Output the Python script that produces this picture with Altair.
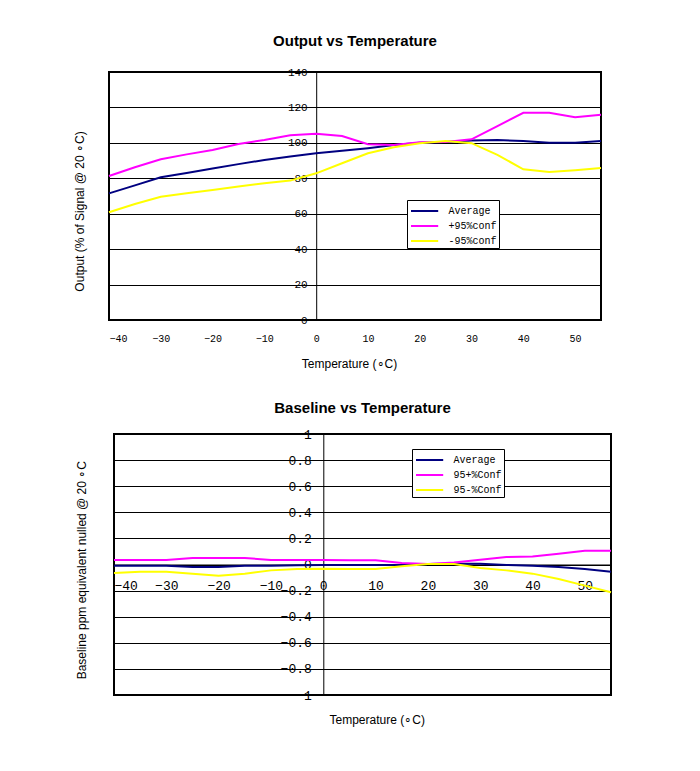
import altair as alt
import pandas as pd

# ---------------- data ----------------
temps = [-40, -35, -30, -25, -20, -15, -10, -5, 0, 5, 10, 15, 20, 25, 30, 35, 40, 45, 50, 55]

top_avg = [71.5, 76.0, 80.6, 83.0, 85.5, 88.0, 90.3, 92.3, 94.1, 95.5, 97.0, 98.8, 100.0, 100.5, 101.3, 101.6, 101.0, 100.0, 100.0, 101.0]
top_plus = [81.3, 86.2, 90.7, 93.5, 96.0, 99.4, 101.6, 104.3, 105.2, 103.9, 99.2, 98.8, 100.3, 100.5, 102.0, 109.5, 117.0, 117.0, 114.4, 115.9]
top_minus = [60.8, 65.5, 69.6, 71.5, 73.4, 75.3, 77.2, 78.7, 82.8, 88.5, 94.1, 97.5, 99.8, 101.0, 99.8, 93.2, 85.1, 83.5, 84.5, 85.8]

base_avg = [-0.01, -0.01, -0.01, -0.02, -0.02, -0.01, -0.01, -0.005, -0.004, -0.004, -0.004, -0.004, 0.003, 0.005, 0.005, -0.004, -0.009, -0.02, -0.035, -0.055]
base_plus = [0.034, 0.034, 0.034, 0.05, 0.05, 0.05, 0.034, 0.034, 0.034, 0.032, 0.032, 0.011, 0.004, 0.016, 0.037, 0.057, 0.062, 0.083, 0.106, 0.106]
base_minus = [-0.065, -0.055, -0.055, -0.07, -0.086, -0.07, -0.045, -0.035, -0.032, -0.035, -0.035, -0.014, 0.003, 0.003, -0.027, -0.045, -0.07, -0.111, -0.162, -0.213]

top_names = ["Average", "+95%conf", "-95%conf"]
base_names = ["Average", "95+%Conf", "95-%Conf"]
colors = ["#000080", "#FF00FF", "#FFFF00"]

x_ticks = [-40, -30, -20, -10, 0, 10, 20, 30, 40, 50]
top_y_ticks = [0, 20, 40, 60, 80, 100, 120, 140]
base_y_ticks = [-1, -0.8, -0.6, -0.4, -0.2, 0, 0.2, 0.4, 0.6, 0.8, 1]


def long_df(names, series):
    rows = []
    for n, s in zip(names, series):
        for t, v in zip(temps, s):
            rows.append({"t": t, "v": v, "series": n})
    return pd.DataFrame(rows)


W1, H1 = 492, 248
W2, H2 = 497, 261

MONO = "Liberation Mono"
SANS = "Liberation Sans"


def legend(lx, ly):
    return alt.Legend(
        orient="none", legendX=lx, legendY=ly, title=None,
        fillColor="white", strokeColor="black", padding=2,
        symbolType="M-1.7,0H1.7", symbolSize=256, symbolStrokeWidth=2,
        symbolOffset=6.6,
        labelFont=MONO, labelFontSize=10, labelColor="black",
        rowPadding=1, labelOffset=15,
    )


def spacer(w):
    # invisible layout helper used only to set the horizontal offset of a panel
    return (
        alt.Chart(pd.DataFrame({"s": [0]}))
        .mark_point(size=0, opacity=0)
        .properties(width=w, height=1, view=alt.ViewBackground(stroke="transparent"))
    )


# ---------------- top chart ----------------
top_df = long_df(top_names, [top_avg, top_plus, top_minus])

top_x = alt.X(
    "t:Q",
    scale=alt.Scale(domain=[-40, 55], nice=False, zero=False),
    axis=alt.Axis(
        values=x_ticks, title="Temperature (∘C)", grid=False, ticks=False,
        domain=False, labelPadding=13, labelFont=MONO, labelFontSize=10,
        labelColor="black", titleFont=SANS, titleFontSize=12,
        titleFontWeight="normal", titleColor="black",
        titleX=240, titleY=43, titleBaseline="middle",
    ),
)
top_y = alt.Y(
    "v:Q",
    scale=alt.Scale(domain=[0, 140], nice=False),
    axis=alt.Axis(
        values=top_y_ticks, title="Output (% of Signal @ 20 ∘C)",
        grid=True, gridColor="black", gridOpacity=1, gridWidth=1,
        ticks=False, domain=True, domainColor="black", domainWidth=1,
        offset=-207.2, labelPadding=9, labelFont=MONO, labelFontSize=11,
        labelColor="black", titleFont=SANS, titleFontSize=12,
        titleFontWeight="normal", titleColor="black",
        titleX=-236.9, titleY=139, titleBaseline="middle",
    ),
)
top_color = alt.Color(
    "series:N", scale=alt.Scale(domain=top_names, range=colors),
    legend=legend(337, 128),
)

top_layers = [
    alt.Chart(top_df).transform_filter(alt.datum.series == n)
    .mark_line(strokeWidth=2)
    .encode(x=top_x, y=top_y, color=top_color)
    for n in top_names
]
top = alt.layer(*top_layers).properties(
    width=W1, height=H1,
    title=alt.TitleParams(
        "Output vs Temperature", font=SANS, fontSize=15, fontWeight="bold",
        anchor="middle", frame="group", baseline="bottom", offset=2,
        color="black",
    ),
)

# ---------------- bottom chart ----------------
base_df = long_df(base_names, [base_avg, base_plus, base_minus])

base_x = alt.X(
    "t:Q",
    scale=alt.Scale(domain=[-40, 55], nice=False, zero=False),
    axis=alt.Axis(
        values=x_ticks, title="Temperature (∘C)", grid=False, ticks=False,
        domain=True, domainColor="black", domainWidth=1,
        offset=-130.5, labelPadding=15, labelFont=MONO, labelFontSize=13,
        labelColor="black", titleFont=SANS, titleFontSize=12,
        titleFontWeight="normal", titleColor="black",
        titleX=262.7, titleY=155.2, titleBaseline="middle",
    ),
)
base_y = alt.Y(
    "v:Q",
    scale=alt.Scale(domain=[-1, 1], nice=False),
    axis=alt.Axis(
        values=base_y_ticks, format=".1~f",
        title="Baseline ppm equivalent nulled @ 20 ∘C",
        grid=True, gridColor="black", gridOpacity=1, gridWidth=1,
        ticks=False, domain=True, domainColor="black", domainWidth=1,
        offset=-209.3, labelPadding=12, labelFont=MONO, labelFontSize=13,
        labelColor="black", titleFont=SANS, titleFontSize=12,
        titleFontWeight="normal", titleColor="black",
        titleX=-241.9, titleY=135.7, titleBaseline="middle",
    ),
)
base_color = alt.Color(
    "series:N", scale=alt.Scale(domain=base_names, range=colors),
    legend=legend(342, 15),
)

base_layers = [
    alt.Chart(base_df).transform_filter(alt.datum.series == n)
    .mark_line(strokeWidth=2)
    .encode(x=base_x, y=base_y, color=base_color)
    for n in base_names
]
bottom = alt.layer(*base_layers).properties(
    width=W2, height=H2,
    title=alt.TitleParams(
        "Baseline vs Temperature", font=SANS, fontSize=15, fontWeight="bold",
        anchor="middle", frame="group", baseline="bottom", offset=-3,
        color="black",
    ),
)

top_row = alt.hconcat(spacer(1), top, spacing=0)
bottom_row = alt.hconcat(spacer(3), bottom, spacing=0)

chart = (
    alt.vconcat(top_row, bottom_row, spacing=30)
    .resolve_scale(color="independent")
    .resolve_legend(color="independent")
    .configure_view(stroke="black", strokeWidth=2)
    .properties(padding={"left": 61, "top": 25, "right": 5, "bottom": 5}, background="white")
)

chart.save("out.html", embed_options={"renderer": "svg", "actions": False})
